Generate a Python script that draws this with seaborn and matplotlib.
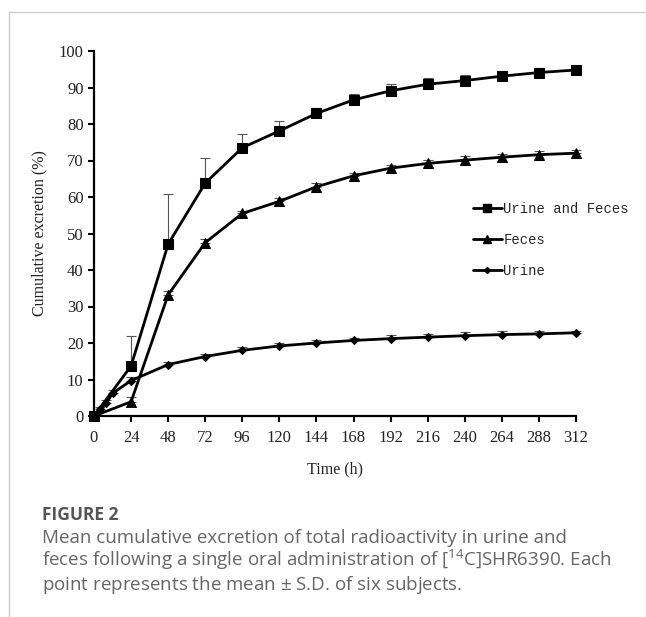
import numpy as np
import pandas as pd
import seaborn as sns
from matplotlib import pyplot as plt
from matplotlib.lines import Line2D

# values
hours = [0, 24, 48, 72, 96, 120, 144, 168, 192, 216, 240, 264, 288, 312]
combined = [0, 13.7, 47.1, 63.8, 73.5, 78.1, 82.9, 86.6, 89.1, 90.9, 91.9, 93.1, 94.1, 94.8]
combined_sd = [0, 8.2, 13.7, 7.0, 3.8, 2.7, 1.5, 1.7, 1.9, 1.6, 1.6, 1.4, 1.2, 0.5]
feces = [0, 3.9, 33.2, 47.5, 55.5, 58.8, 62.8, 65.8, 67.9, 69.2, 70.1, 70.9, 71.6, 72.0]
feces_sd = [0, 1.2, 1.0, 0.9, 0.8, 0.9, 0.9, 0.9, 1.0, 1.0, 1.0, 1.0, 1.0, 0.8]

urine_hours = [0, 4, 8, 12, 24, 48, 72, 96, 120, 144, 168, 192, 216, 240, 264, 288, 312]
urine = [0, 1.8, 3.6, 6.2, 9.7, 14.1, 16.3, 18.0, 19.2, 20.0, 20.7, 21.2, 21.6, 22.0, 22.3, 22.5, 22.8]
urine_sd = [0, 0.6, 0.8, 0.9, 1.0, 0.8, 0.8, 0.8, 0.8, 0.8, 0.8, 0.9, 0.9, 0.9, 0.9, 0.9, 0.6]

labels = ["Urine and Feces", "Feces", "Urine"]

caption_lines = [
    "Mean cumulative excretion of total radioactivity in urine and",
    "feces following a single oral administration of [$^{14}$C]SHR6390. Each",
    "point represents the mean $\\pm$ S.D. of six subjects.",
]

df = pd.concat([
    pd.DataFrame({"time": hours, "value": combined, "sd": combined_sd, "group": labels[0]}),
    pd.DataFrame({"time": hours, "value": feces, "sd": feces_sd, "group": labels[1]}),
    pd.DataFrame({"time": urine_hours, "value": urine, "sd": urine_sd, "group": labels[2]}),
])

sns.set_style("ticks")
plt.rcParams['font.family'] = ['Liberation Serif', 'DejaVu Serif']
plt.rcParams['mathtext.fontset'] = 'custom'
plt.rcParams['mathtext.rm'] = 'Open Sans'
plt.rcParams['mathtext.it'] = 'Open Sans'

fig = plt.figure(figsize=(6.46, 6.17), dpi=100)
ax = fig.add_axes([94 / 646, 1 - 416 / 617, (576 - 94) / 646, (416 - 51) / 617])

markers = {"Urine and Feces": "s", "Feces": "^", "Urine": "D"}
sizes = {"Urine and Feces": 6.5, "Feces": 6.5, "Urine": 3.6}

sns.lineplot(data=df, x="time", y="value", hue="group", style="group",
             markers=markers, dashes=False, palette=["black"] * 3,
             linewidth=2, markeredgecolor="black", ax=ax, legend=False,
             zorder=3, clip_on=False)
for line, name in zip(list(ax.lines), labels):
    line.set_markersize(sizes[name])

# upper-only S.D. bars
for name, sub in df.groupby("group", sort=False):
    ax.errorbar(sub["time"], sub["value"], yerr=[np.zeros(len(sub)), sub["sd"]],
                fmt="none", ecolor="#555555", elinewidth=0.8, capsize=3.5,
                capthick=0.8, zorder=2, clip_on=False)

ax.set_xlim(0, 312)
ax.set_ylim(0, 100)
ax.set_xticks(range(0, 313, 24))
ax.set_yticks(range(0, 101, 10))
ax.tick_params(labelsize=12, length=4, width=1.5, color="black", labelcolor="#222222")
ax.tick_params(axis="x", pad=6)
for s in ["left", "bottom"]:
    ax.spines[s].set_linewidth(1.6)
    ax.spines[s].set_color("black")
sns.despine(ax=ax)
ax.set_xlabel("Time (h)", fontsize=11.5, color="#222222", labelpad=11)
ax.set_ylabel("Cumulative excretion (%)", fontsize=11.5, color="#222222", labelpad=8)

handles = [Line2D([], [], color="black", lw=2, marker=markers[n], markersize=sizes[n] - 0.5)
           for n in labels]
ax.legend(handles, labels, loc="upper left", bbox_to_anchor=(0.76, 0.62),
          frameon=False, handlelength=2.1, handletextpad=0.1, labelspacing=1.2,
          prop={"family": "Liberation Mono", "size": 10})

# page frame lines
fig.add_artist(Line2D([9 / 646, 9 / 646], [0, 1 - 12 / 617], color="#cccccc", lw=1))
fig.add_artist(Line2D([9 / 646, 1], [1 - 12 / 617, 1 - 12 / 617], color="#cccccc", lw=1))

fig.text(42 / 646, 1 - 515 / 617, "FIGURE 2", fontsize=12.5, fontweight="bold",
         color="#555555", family="Open Sans", va="center")
for i, line in enumerate(caption_lines):
    fig.text(42 / 646, 1 - (543 + 23.5 * i) / 617, line, fontsize=13.5, color="#666666",
             family="Open Sans", va="baseline")

fig.savefig("out.png", dpi=100)
